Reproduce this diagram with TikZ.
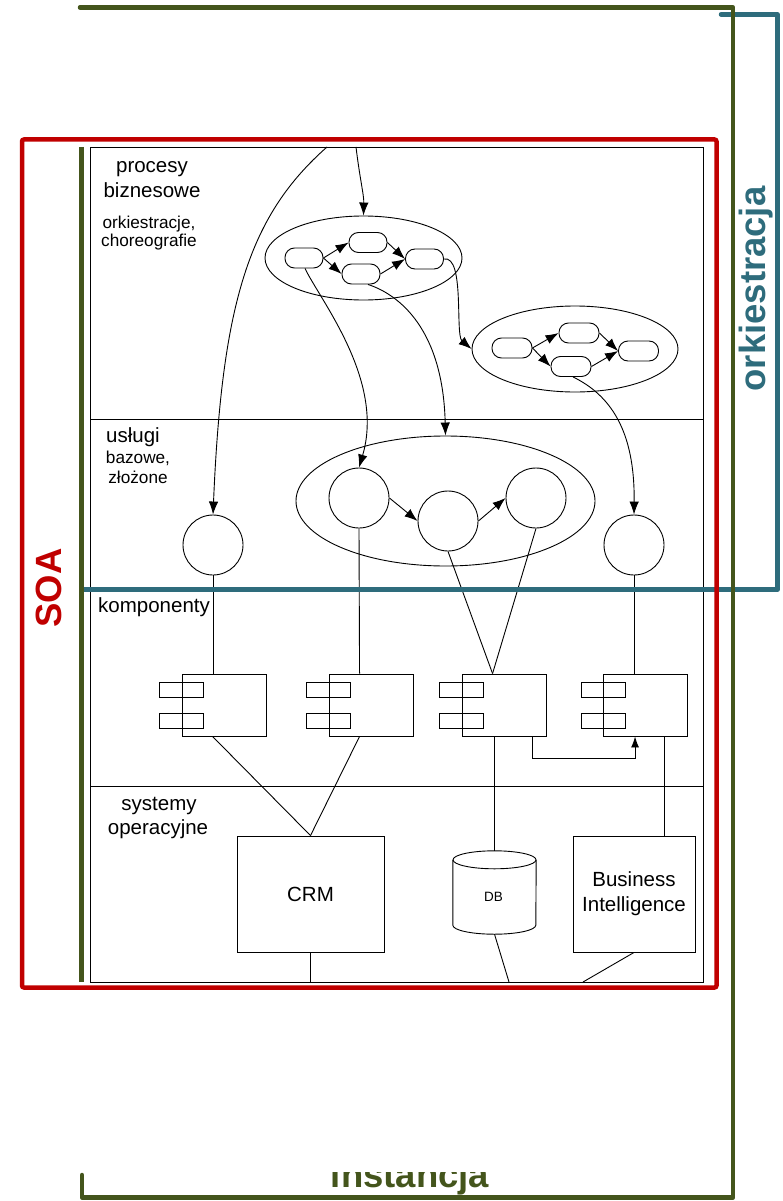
\documentclass[tikz,border=0pt]{standalone}
\usepackage{fontspec}
\setmainfont{Liberation Sans}
\usetikzlibrary{shapes.geometric,arrows.meta,calc}
\definecolor{soared}{RGB}{192,0,0}
\definecolor{olivegreen}{RGB}{68,85,28}
\definecolor{orchteal}{RGB}{46,108,124}

\begin{document}
\begin{tikzpicture}[x=1pt,y=-1pt,
  thinline/.style={line width=0.9pt},
  proc/.style={draw, thinline, rounded corners=9.5pt, minimum width=38pt, minimum height=20pt, inner sep=0pt},
  grp/.style={draw, thinline, ellipse, inner sep=0pt},
  svc/.style={draw, thinline, circle, minimum size=60pt, inner sep=0pt},
  compbox/.style={draw, thinline, minimum width=84pt, minimum height=62pt, inner sep=0pt},
  comptab/.style={draw, thinline, minimum width=44pt, minimum height=15pt, inner sep=0pt},
  sysbox/.style={draw, thinline, inner sep=0pt, align=center, font=\fontsize{20.5pt}{25pt}\selectfont},
  arr/.style={thinline, -{Latex[length=13pt,width=9.5pt]}},
  bigtxt/.style={font=\fontsize{20.5pt}{25pt}\selectfont, inner sep=0pt, anchor=base},
  smalltxt/.style={font=\fontsize{17.2pt}{19pt}\selectfont, inner sep=0pt, anchor=base},
  framebar/.style={line width=4.5pt, line cap=round, line join=round},
  banner/.style={font=\fontsize{36.5pt}{40pt}\selectfont\bfseries, inner sep=0pt},
]
\useasboundingbox (0,0) rectangle (782,1201);

% ---------- layered frame ----------
\node[draw, line width=1pt, minimum width=613pt, minimum height=835pt, anchor=north west, inner sep=0pt] (frame) at (90,147) {};
\coordinate (d1) at (0,419);
\coordinate (d2) at (0,589);
\coordinate (d3) at (0,786);
\draw[line width=1pt] (frame.west |- d1) -- (frame.east |- d1);
\draw[line width=1pt] (frame.west |- d2) -- (frame.east |- d2);
\draw[line width=1pt] (frame.west |- d3) -- (frame.east |- d3);

% layer titles
\node[bigtxt] (l1a) at (152,172) {procesy};
\node[bigtxt] (l1b) at (152,197) {biznesowe};
\node[smalltxt] (l1c) at (149,228) {orkiestracje,};
\node[smalltxt] (l1d) at (149,246) {choreografie};
\node[bigtxt] (l2a) at (133,442) {usługi};
\node[smalltxt] (l2b) at (138,463) {bazowe,};
\node[smalltxt] (l2c) at (138,483) {złożone};
\node[bigtxt, anchor=base west] (l3a) at (98,612) {komponenty};
\node[bigtxt] (l4a) at (159,810) {systemy};
\node[bigtxt] (l4b) at (158,834) {operacyjne};

% ---------- business processes ----------
\node[grp, minimum width=197pt, minimum height=84pt] (e1) at (363.5,258) {};
\node[proc] (r1) at (304,258) {};
\node[proc] (r2) at (368,242.5) {};
\node[proc] (r3) at (361,274) {};
\node[proc] (r4) at (424.5,259) {};
\draw[arr] (r1.east) -- (r2.west);
\draw[arr] (r1.east) -- (r3.west);
\draw[arr] (r2.east) -- (r4.west);
\draw[arr] (r3.east) -- (r4.west);

\node[grp, minimum width=206pt, minimum height=86pt] (e2) at (575,349) {};
\node[proc, minimum width=40pt] (q1) at (512,348) {};
\node[proc, minimum width=40pt] (q2) at (579,333) {};
\node[proc, minimum width=40pt] (q3) at (571,366.5) {};
\node[proc, minimum width=40pt] (q4) at (638.5,351) {};
\draw[arr] (q1.east) -- (q2.west);
\draw[arr] (q1.east) -- (q3.west);
\draw[arr] (q2.east) -- (q4.west);
\draw[arr] (q3.east) -- (q4.west);

% ---------- services ----------
\node[grp, minimum width=299pt, minimum height=130pt] (e3) at (445.5,501) {};
\node[svc] (s1) at (213,545) {};
\node[svc] (s2) at (359,498) {};
\node[svc] (s3) at (448,521) {};
\node[svc] (s4) at (536,498) {};
\node[svc] (s5) at (634,545) {};
\draw[arr] (s2.east) -- (s3.west);
\draw[arr] (s3.east) -- (s4.west);

% invocation curves between the layers
\coordinate (top1) at (327,147);
\coordinate (top2) at (356,147);
\draw[arr] (top1) .. controls (250,215) and (222,300) .. (s1.north);
\draw[arr] (top2) .. controls (360,180) and (364,195) .. (e1.north);
\draw[arr] ($(r1.south)+(1,0)$) .. controls (320,300) and (385,380) .. (s2.north);
\draw[arr] ($(r3.south)+(7,0)$) .. controls (400,295) and (443,330) .. (e3.north);
\draw[arr] (r4.east) .. controls (465,255) and (455,335) .. (e2.west);
\draw[arr] ($(q3.south)+(2,0)$) .. controls (610,395) and (635,430) .. (s5.north);

% ---------- components ----------
\foreach \n/\x in {c1/224, c2/371, c3/504, c4/645.5}{
  \node[compbox] (\n) at (\x,705) {};
  \node[comptab] (\n ta) at ($(\n.west)+(0,-15.5)$) {};
  \node[comptab] (\n tb) at ($(\n.west)+(0,15.5)$) {};
}
\draw[thinline] (s1.south) -- (s1.south |- c1.north);
\draw[thinline] (s2.south) -- ($(c2.north west)+(31,0)$);
\draw[thinline] (s3.south) -- ($(c3.north west)+(31,0)$);
\draw[thinline] (s4.south) -- ($(c3.north west)+(31,0)$);
\draw[thinline] (s5.south) -- (s5.south |- c4.north);
\draw[thinline, -{Latex[length=11pt,width=8pt]}] ($(c3.south east)+(-14,0)$) -- ++(0,22) -| ($(c4.south west)+(32,0)$);

% ---------- operational systems ----------
\node[sysbox, minimum width=147pt, minimum height=116pt] (crm) at (310.5,894) {CRM};
\node[sysbox, minimum width=122pt, minimum height=116pt] (bi) at (634,894) {Business\\Intelligence};
\node[minimum width=83pt, minimum height=83pt, inner sep=0pt] (db) at (494.5,892.5) {};
\draw[thinline] ($(db.north)+(0,9)$) ellipse [x radius=41.5pt, y radius=9pt];
\draw[thinline] ($(db.north west)+(0,9)$) -- ($(db.south west)+(0,-9)$)
  arc[start angle=180, end angle=360, x radius=41.5pt, y radius=9pt] -- ($(db.north east)+(0,9)$);
\node[font=\fontsize{13.5pt}{16pt}\selectfont, inner sep=0pt] (dbtxt) at ($(db.center)+(-1,4.5)$) {DB};

\draw[thinline] ($(c1.south west)+(31,0)$) -- (crm.north);
\draw[thinline] ($(c2.south west)+(31,0)$) -- (crm.north);
\draw[thinline] (db.north |- c3.south) -- (db.north);
\draw[thinline] ($(c4.south east)+(-24,0)$) coordinate (c4b) -- (c4b |- bi.north);

\coordinate (dbfoot) at (509,982);
\coordinate (bifoot) at (583,982);
\draw[thinline] (crm.south) -- (crm.south |- frame.south);
\draw[thinline] (db.south) -- (dbfoot);
\draw[thinline] (bi.south) -- (bifoot);

% ---------- orchestration bracket ----------
\draw[orchteal, framebar] (721,14.5) -- (777.5,14.5) -- (777.5,589.5) -- (83,589.5);
\node[banner, text=orchteal, rotate=90] (orch) at (756,289) {orkiestracja};

% ---------- SOA box ----------
\draw[soared, line width=4.5pt, rounded corners=2pt] (22,139.5) rectangle (716.5,987.5);
\node[banner, text=soared, rotate=90] (soa) at (48.5,588) {SOA};

% ---------- instance frame ----------
\begin{scope}
  \clip (300,1172) rectangle (520,1196);
  \node[banner, text=olivegreen, anchor=base] (inst) at (410,1187) {instancja};
\end{scope}
\draw[olivegreen, framebar] (80,7.5) -- (733,7.5) -- (733,1197.5) -- (82,1197.5) -- (82,1175);
\draw[olivegreen, line width=5pt] (81.5,147) -- (81.5,982);
\end{tikzpicture}
\end{document}
